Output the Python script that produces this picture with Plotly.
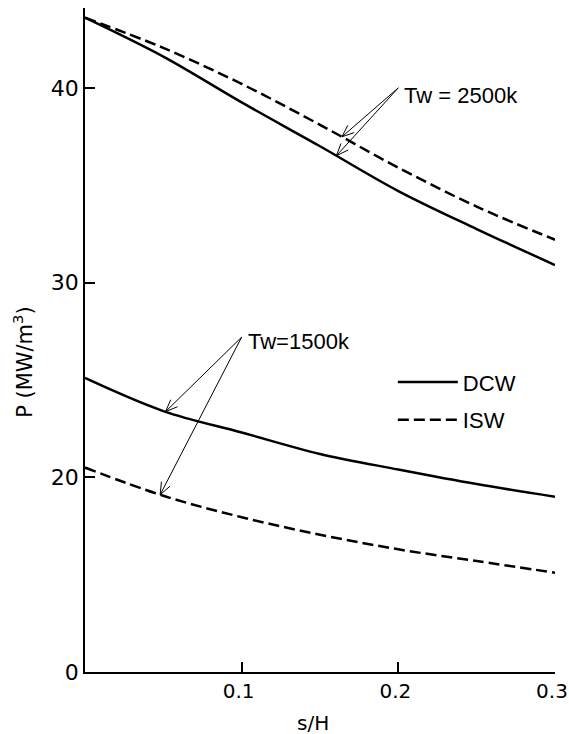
import math
import numpy as np
import plotly.graph_objects as go

# Wall position s/H
s = [0.0, 0.05, 0.10, 0.15, 0.20, 0.25, 0.30]

# Power density P (MW/m^3)
dcw_2500 = [43.6, 41.6, 39.25, 37.0, 34.7, 32.75, 30.9]
isw_2500 = [43.6, 42.05, 40.2, 38.1, 35.9, 33.9, 32.2]
dcw_1500 = [25.1, 23.4, 22.3, 21.2, 20.4, 19.65, 19.0]
isw_1500 = [20.5, 19.05, 17.95, 17.05, 16.3, 15.7, 15.1]

x_ticks = [0.1, 0.2, 0.3]
x_tick_text = ["0.1", "0.2", "0.3"]
# lower end of the axis is suppressed: bottom tick carries the "0" label
y_ticks = [10, 20, 30, 40]
y_tick_text = ["0", "20", "30", "40"]

FONT = "DejaVu Sans"
LABEL_FONT = "Liberation Sans"
INK = "black"

W, H = 569, 734
MARGIN = dict(l=85, r=14, t=8, b=62)
X_RANGE = [0, 0.3]
Y_RANGE = [10, 44.1]

# pixels per data unit, used to shape the arrow heads
px_x = (W - MARGIN["l"] - MARGIN["r"]) / (X_RANGE[1] - X_RANGE[0])
px_y = (H - MARGIN["t"] - MARGIN["b"]) / (Y_RANGE[1] - Y_RANGE[0])

solid = dict(color=INK, width=2.5, dash="solid")
dashed = dict(color=INK, width=2.5, dash="11px,5px")

fig = go.Figure()
fig.add_trace(go.Scatter(x=s, y=dcw_2500, mode="lines", line=solid, line_shape="spline",
                         name="DCW", legendgroup="DCW", showlegend=True))
fig.add_trace(go.Scatter(x=s, y=isw_2500, mode="lines", line=dashed, line_shape="spline",
                         name="ISW", legendgroup="ISW", showlegend=True))
fig.add_trace(go.Scatter(x=s, y=dcw_1500, mode="lines", line=solid, line_shape="spline",
                         name="DCW", legendgroup="DCW", showlegend=False))
fig.add_trace(go.Scatter(x=s, y=isw_1500, mode="lines", line=dashed, line_shape="spline",
                         name="ISW", legendgroup="ISW", showlegend=False))

shapes = []


def pointer(tail, x_head, series, head_len=13, spread=22):
    """Thin arrow with an open V head from a label anchor to a curve."""
    y_head = float(np.interp(x_head, s, series))
    seg = dict(type="line", xref="x", yref="y", line=dict(color=INK, width=1))
    shapes.append(dict(seg, x0=tail[0], y0=tail[1], x1=x_head, y1=y_head))
    # direction from head back towards the tail, in screen pixels (y down)
    dx = (tail[0] - x_head) * px_x
    dy = -(tail[1] - y_head) * px_y
    ang = math.atan2(dy, dx)
    for sign in (-1, 1):
        a = ang + sign * math.radians(spread)
        bx = x_head + head_len * math.cos(a) / px_x
        by = y_head - head_len * math.sin(a) / px_y
        shapes.append(dict(seg, x0=x_head, y0=y_head, x1=bx, y1=by))


tail_2500 = (0.2, 40.0)
tail_1500 = (0.1, 27.2)

pointer(tail_2500, 0.164, isw_2500)
pointer(tail_2500, 0.1605, dcw_2500)
pointer(tail_1500, 0.0514, dcw_1500)
pointer(tail_1500, 0.048, isw_1500)

annotations = [
    dict(x=0.2025, y=39.6, xref="x", yref="y", text="Tw = 2500k", showarrow=False,
         xanchor="left", yanchor="middle", font=dict(family=LABEL_FONT, size=22, color=INK)),
    dict(x=0.1025, y=26.95, xref="x", yref="y", text="Tw=1500k", showarrow=False,
         xanchor="left", yanchor="middle", font=dict(family=LABEL_FONT, size=22, color=INK)),
    dict(x=-0.132, y=0.467, xref="paper", yref="paper", text="P (MW/m<sup>3</sup>)",
         showarrow=False, textangle=-90, xanchor="center", yanchor="middle",
         font=dict(family=FONT, size=21, color=INK)),
    dict(x=0.485, y=-0.077, xref="paper", yref="paper", text="s/H", showarrow=False,
         xanchor="center", yanchor="middle", font=dict(family=FONT, size=20, color=INK)),
]

fig.update_layout(
    width=W, height=H,
    margin=MARGIN,
    paper_bgcolor="white", plot_bgcolor="white",
    font=dict(family=FONT, size=20, color=INK),
    annotations=annotations,
    shapes=shapes,
    showlegend=True,
    legend=dict(x=0.655, y=0.468, xanchor="left", yanchor="top",
                bgcolor="rgba(0,0,0,0)", font=dict(family=LABEL_FONT, size=22, color=INK),
                itemwidth=60, tracegroupgap=6),
)

fig.update_xaxes(range=X_RANGE, tickmode="array", tickvals=x_ticks, ticktext=x_tick_text,
                 ticks="inside", ticklen=10, tickwidth=1.5, tickcolor=INK,
                 showline=True, linecolor=INK, linewidth=1.8, mirror=False,
                 showgrid=False, zeroline=False, tickfont=dict(size=20),
                 ticklabelshift=-3, ticklabeloverflow="allow", automargin=False)
fig.update_yaxes(range=Y_RANGE, tickmode="array", tickvals=y_ticks, ticktext=y_tick_text,
                 ticks="inside", ticklen=10, tickwidth=1.5, tickcolor=INK,
                 showline=True, linecolor=INK, linewidth=1.8, mirror=False,
                 showgrid=False, zeroline=False, tickfont=dict(size=22),
                 ticklabeloverflow="allow", automargin=False)

fig.write_html("out.html")
